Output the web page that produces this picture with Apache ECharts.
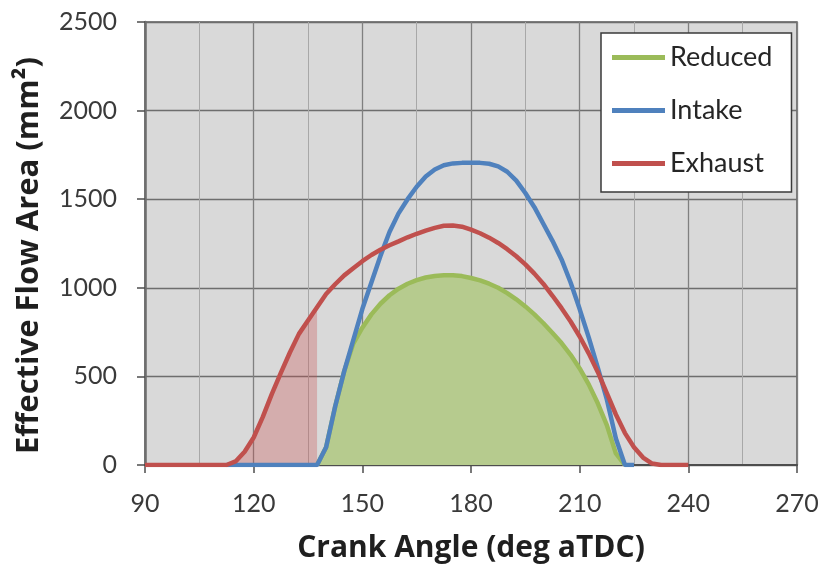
<!DOCTYPE html>
<html>
<head>
<meta charset="utf-8">
<script src="https://cdn.jsdelivr.net/npm/echarts@6/dist/echarts.min.js"></script>
<style>
html,body{margin:0;padding:0;background:#fff;}
#chart{width:823px;height:569px;}
</style>
</head>
<body>
<div id="chart"></div>
<script>
// Crank angle (deg aTDC), shared by all series
var angles = [];
for (var a = 90; a <= 240; a += 2.5) angles.push(a);

// Effective flow area (mm^2)
var exhaust = [0,0,0,0,0,0,0,0,0,0,
  20,75,155,270,400,520,635,740,815,890,
  965,1020,1070,1110,1150,1185,1215,1240,1262,1285,
  1305,1323,1338,1350,1352,1345,1328,1308,1283,1253,
  1218,1178,1132,1080,1022,955,885,810,725,630,
  525,405,285,180,100,42,8,0,0,0,0];

var intake = [null,null,null,null,null,null,null,null,null,0,
  0,0,0,0,0,0,0,0,0,0,
  100,330,530,705,880,1030,1180,1315,1420,1500,
  1570,1628,1668,1692,1702,1705,1705,1705,1700,1685,
  1655,1605,1535,1455,1360,1265,1160,1030,880,720,
  550,370,150,0,0,null,null,null,null,null,null];

var reduced = [null,null,null,null,null,null,null,null,null,null,
  null,null,null,null,null,null,null,null,null,0,
  100,330,530,685,775,850,910,958,995,1023,
  1043,1058,1067,1071,1071,1066,1055,1042,1023,1000,
  970,935,895,850,800,745,688,622,545,455,
  348,225,65,0,null,null,null,null,null,null,null];

// shaded portion of the exhaust curve (angle range)
var shadeStart = 112.5, shadeEnd = 137.5;

var xTicks = [90, 120, 150, 180, 210, 240, 270];
var yTicks = [0, 500, 1000, 1500, 2000, 2500];

function pairs(vals) {
  return angles.map(function (x, i) { return [x, vals[i]]; });
}
var shade = angles.map(function (x, i) {
  return [x, (x >= shadeStart && x <= shadeEnd) ? exhaust[i] : null];
});

var FONT = 'Lato';
var TFONT = 'Open Sans';
var chart = echarts.init(document.getElementById('chart'), null, {renderer: 'canvas'});
chart.setOption({
  animation: false,
  grid: {
    left: 145, right: 26, top: 22, bottom: 104,
    show: true, backgroundColor: '#d9d9d9', borderColor: '#595959', borderWidth: 1.5
  },
  legend: {
    orient: 'vertical', left: 601, top: 33,
    backgroundColor: '#ffffff', borderColor: '#3a3a3a', borderWidth: 1.5,
    padding: [11, 19, 15, 11],
    itemWidth: 53, itemHeight: 5, itemGap: 26,
    icon: 'rect',
    textStyle: {fontFamily: FONT, fontSize: 27, color: '#262626'},
    data: ['Reduced', 'Intake', 'Exhaust']
  },
  xAxis: {
    type: 'value', min: xTicks[0], max: xTicks[xTicks.length - 1], interval: 30,
    name: 'Crank Angle (deg aTDC)', nameLocation: 'middle', nameGap: 68,
    nameTextStyle: {fontFamily: TFONT, fontSize: 30, fontWeight: 'bold', color: '#1f1f1f'},
    axisLine: {show: true, lineStyle: {color: '#4d4d4d', width: 2}},
    axisTick: {show: true, length: 8, lineStyle: {color: '#4d4d4d', width: 1.5}},
    axisLabel: {fontFamily: FONT, fontSize: 25, color: '#3a3a3a', margin: 26},
    splitLine: {show: true, lineStyle: {color: '#808080', width: 1.3}},
    minorTick: {show: false, splitNumber: 2},
    minorSplitLine: {show: true, lineStyle: {color: '#a8a8a8', width: 1}}
  },
  yAxis: {
    type: 'value', min: yTicks[0], max: yTicks[yTicks.length - 1], interval: 500,
    name: 'Effective Flow Area (mm²)', nameLocation: 'middle', nameGap: 100,
    nameTextStyle: {fontFamily: TFONT, fontSize: 31, fontWeight: 'bold', color: '#1f1f1f',
      padding: [0, 24, 0, 0]},
    axisLine: {show: true, lineStyle: {color: '#6e6e6e', width: 2.5}},
    axisTick: {show: true, length: 8, lineStyle: {color: '#4d4d4d', width: 1.5}},
    axisLabel: {fontFamily: FONT, fontSize: 25, color: '#3a3a3a', margin: 28,
      formatter: function (v) { return String(v); }},
    splitLine: {show: true, lineStyle: {color: '#6e6e6e', width: 1.4}}
  },
  series: [
    {
      name: 'Reduced', type: 'line', data: pairs(reduced), symbol: 'none',
      itemStyle: {color: '#9bbb59'},
      lineStyle: {color: '#9bbb59', width: 4.5},
      areaStyle: {color: '#b6cb8e', opacity: 1},
      z: 2
    },
    {
      name: 'ExhaustShade', type: 'line', data: shade, symbol: 'none',
      lineStyle: {width: 0, opacity: 0},
      itemStyle: {color: '#c0504d'},
      areaStyle: {color: 'rgba(200,80,78,0.45)'},
      z: 2
    },
    {
      name: 'Intake', type: 'line', data: pairs(intake), symbol: 'none',
      itemStyle: {color: '#4f81bd'},
      lineStyle: {color: '#4f81bd', width: 4.5},
      z: 3
    },
    {
      name: 'Exhaust', type: 'line', data: pairs(exhaust), symbol: 'none',
      itemStyle: {color: '#c0504d'},
      lineStyle: {color: '#c0504d', width: 4.5},
      z: 4
    }
  ]
});
</script>
</body>
</html>
